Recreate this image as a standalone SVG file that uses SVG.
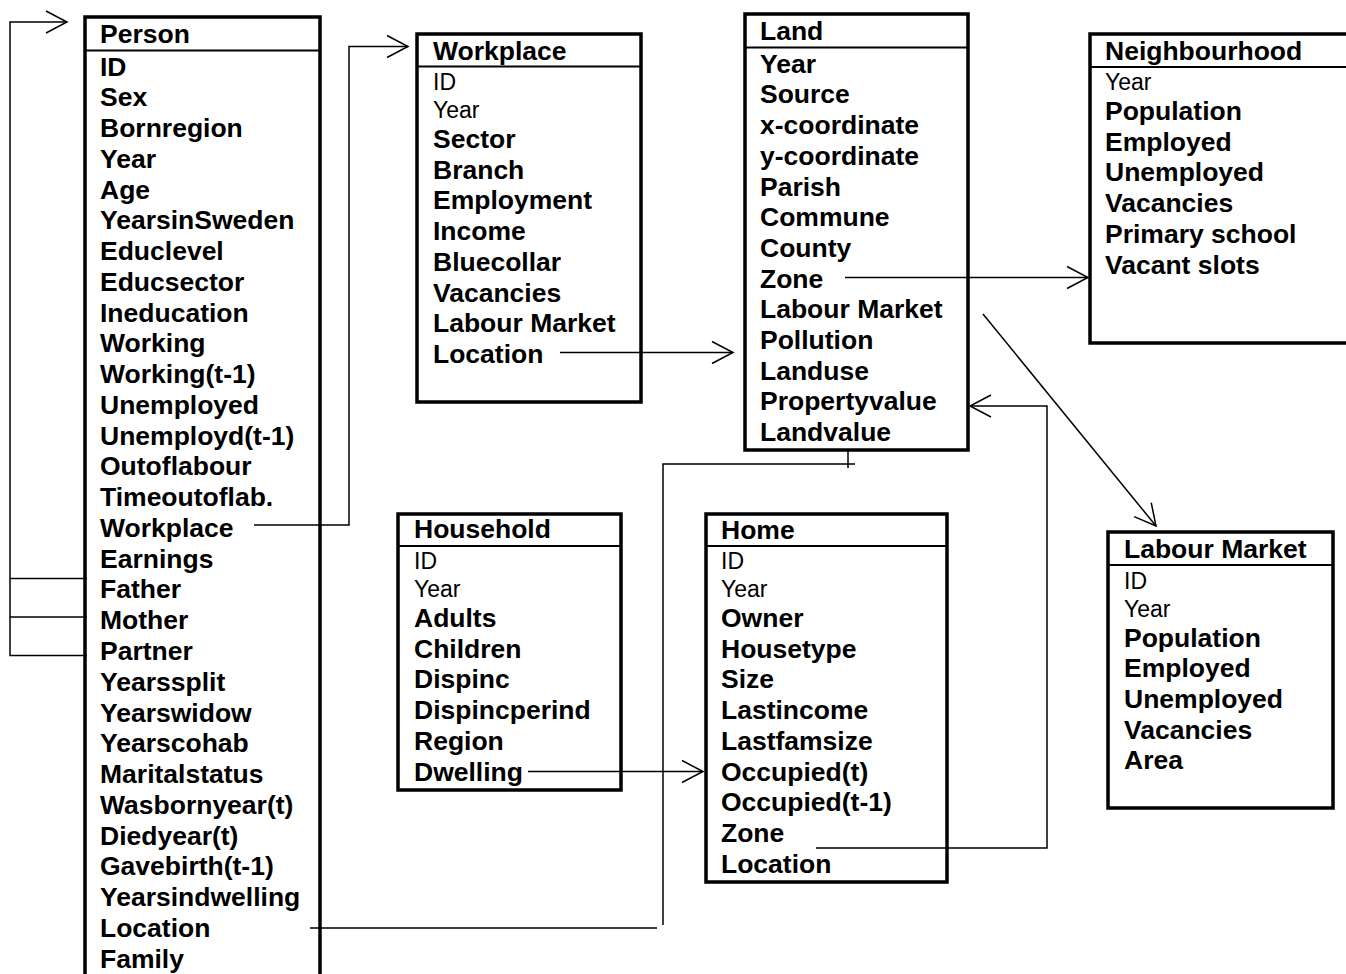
<svg xmlns="http://www.w3.org/2000/svg" width="1346" height="974" viewBox="0 0 1346 974">
<style>
.box{fill:#fff;stroke:#000;stroke-width:3.5}
.div{stroke:#000;stroke-width:2}
.b{font-family:"Liberation Sans",Arial,sans-serif;font-weight:bold;font-size:26.5px;fill:#000}
.r{font-family:"Liberation Sans",Arial,sans-serif;font-weight:normal;font-size:23px;fill:#000}
.c{fill:none;stroke:#000;stroke-width:1.5}
</style>
<defs>
<marker id="arr" markerUnits="userSpaceOnUse" viewBox="-24 -14 26 28" refX="0" refY="0" markerWidth="26" markerHeight="28" orient="auto">
<path d="M-21,-11 L0,0 L-21,11" fill="none" stroke="#000" stroke-width="1.5"/>
</marker>
</defs>
<rect width="1346" height="974" fill="#fff"/>

<g id="person">
<rect class="box" x="85" y="17" width="235" height="980"/>
<line class="div" x1="85" y1="50.5" x2="320" y2="50.5"/>
<text class="b" x="100" y="43">Person</text>
<text class="b" x="100" y="75.5">ID</text>
<text class="b" x="100" y="106.3">Sex</text>
<text class="b" x="100" y="137">Bornregion</text>
<text class="b" x="100" y="167.8">Year</text>
<text class="b" x="100" y="198.5">Age</text>
<text class="b" x="100" y="229.3">YearsinSweden</text>
<text class="b" x="100" y="260">Educlevel</text>
<text class="b" x="100" y="290.8">Educsector</text>
<text class="b" x="100" y="321.6">Ineducation</text>
<text class="b" x="100" y="352.3">Working</text>
<text class="b" x="100" y="383.1">Working(t-1)</text>
<text class="b" x="100" y="413.9">Unemployed</text>
<text class="b" x="100" y="444.6">Unemployd(t-1)</text>
<text class="b" x="100" y="475.4">Outoflabour</text>
<text class="b" x="100" y="506.1">Timeoutoflab.</text>
<text class="b" x="100" y="536.9">Workplace</text>
<text class="b" x="100" y="567.7">Earnings</text>
<text class="b" x="100" y="598.4">Father</text>
<text class="b" x="100" y="629.2">Mother</text>
<text class="b" x="100" y="659.9">Partner</text>
<text class="b" x="100" y="690.7">Yearssplit</text>
<text class="b" x="100" y="721.5">Yearswidow</text>
<text class="b" x="100" y="752.2">Yearscohab</text>
<text class="b" x="100" y="783">Maritalstatus</text>
<text class="b" x="100" y="813.8">Wasbornyear(t)</text>
<text class="b" x="100" y="844.5">Diedyear(t)</text>
<text class="b" x="100" y="875.3">Gavebirth(t-1)</text>
<text class="b" x="100" y="906">Yearsindwelling</text>
<text class="b" x="100" y="936.8">Location</text>
<text class="b" x="100" y="967.5">Family</text>
</g>

<g id="workplace">
<rect class="box" x="417" y="34" width="224" height="368"/>
<line class="div" x1="417" y1="66.5" x2="641" y2="66.5"/>
<text class="b" x="433" y="60">Workplace</text>
<text class="r" x="433" y="90">ID</text>
<text class="r" x="433" y="118">Year</text>
<text class="b" x="433" y="148">Sector</text>
<text class="b" x="433" y="178.7">Branch</text>
<text class="b" x="433" y="209.4">Employment</text>
<text class="b" x="433" y="240.1">Income</text>
<text class="b" x="433" y="270.8">Bluecollar</text>
<text class="b" x="433" y="301.5">Vacancies</text>
<text class="b" x="433" y="332.2">Labour Market</text>
<text class="b" x="433" y="362.9">Location</text>
</g>

<g id="land">
<rect class="box" x="745" y="14" width="223" height="436"/>
<line class="div" x1="745" y1="47.5" x2="968" y2="47.5"/>
<text class="b" x="760" y="40">Land</text>
<text class="b" x="760" y="72.7">Year</text>
<text class="b" x="760" y="103.4">Source</text>
<text class="b" x="760" y="134.1">x-coordinate</text>
<text class="b" x="760" y="164.8">y-coordinate</text>
<text class="b" x="760" y="195.5">Parish</text>
<text class="b" x="760" y="226.2">Commune</text>
<text class="b" x="760" y="256.9">County</text>
<text class="b" x="760" y="287.6">Zone</text>
<text class="b" x="760" y="318.3">Labour Market</text>
<text class="b" x="760" y="349">Pollution</text>
<text class="b" x="760" y="379.7">Landuse</text>
<text class="b" x="760" y="410.4">Propertyvalue</text>
<text class="b" x="760" y="441.1">Landvalue</text>
</g>

<g id="neighbourhood">
<rect class="box" x="1090" y="34" width="280" height="309"/>
<line class="div" x1="1090" y1="67" x2="1370" y2="67"/>
<text class="b" x="1105" y="60">Neighbourhood</text>
<text class="r" x="1105" y="90">Year</text>
<text class="b" x="1105" y="120">Population</text>
<text class="b" x="1105" y="150.7">Employed</text>
<text class="b" x="1105" y="181.4">Unemployed</text>
<text class="b" x="1105" y="212.1">Vacancies</text>
<text class="b" x="1105" y="242.8">Primary school</text>
<text class="b" x="1105" y="273.5">Vacant slots</text>
</g>

<g id="labourmarket">
<rect class="box" x="1108" y="532" width="225" height="276"/>
<line class="div" x1="1108" y1="565" x2="1333" y2="565"/>
<text class="b" x="1124" y="558">Labour Market</text>
<text class="r" x="1124" y="588.5">ID</text>
<text class="r" x="1124" y="616.5">Year</text>
<text class="b" x="1124" y="646.5">Population</text>
<text class="b" x="1124" y="677.2">Employed</text>
<text class="b" x="1124" y="707.9">Unemployed</text>
<text class="b" x="1124" y="738.6">Vacancies</text>
<text class="b" x="1124" y="769.3">Area</text>
</g>

<g id="household">
<rect class="box" x="398" y="514" width="223" height="276"/>
<line class="div" x1="398" y1="546" x2="621" y2="546"/>
<text class="b" x="414" y="538">Household</text>
<text class="r" x="414" y="568.5">ID</text>
<text class="r" x="414" y="597">Year</text>
<text class="b" x="414" y="627">Adults</text>
<text class="b" x="414" y="657.7">Children</text>
<text class="b" x="414" y="688.4">Dispinc</text>
<text class="b" x="414" y="719.1">Dispincperind</text>
<text class="b" x="414" y="749.8">Region</text>
<text class="b" x="414" y="780.5">Dwelling</text>
</g>

<g id="home">
<rect class="box" x="706" y="514" width="241" height="368"/>
<line class="div" x1="706" y1="546" x2="947" y2="546"/>
<text class="b" x="721" y="539">Home</text>
<text class="r" x="721" y="569">ID</text>
<text class="r" x="721" y="597">Year</text>
<text class="b" x="721" y="627">Owner</text>
<text class="b" x="721" y="657.7">Housetype</text>
<text class="b" x="721" y="688.4">Size</text>
<text class="b" x="721" y="719.1">Lastincome</text>
<text class="b" x="721" y="749.8">Lastfamsize</text>
<text class="b" x="721" y="780.5">Occupied(t)</text>
<text class="b" x="721" y="811.2">Occupied(t-1)</text>
<text class="b" x="721" y="841.9">Zone</text>
<text class="b" x="721" y="872.6">Location</text>
</g>

<g id="connectors">
<path class="c" d="M87,578.5 H10"/>
<path class="c" d="M87,617 H10"/>
<path class="c" d="M87,655.5 H10 V22 H67" marker-end="url(#arr)"/>
<path class="c" d="M254,525 H349 V46.5 H408" marker-end="url(#arr)"/>
<path class="c" d="M560,352.5 H733" marker-end="url(#arr)"/>
<path class="c" d="M845,277.5 H1088" marker-end="url(#arr)"/>
<path class="c" d="M983,314 L1156,526" marker-end="url(#arr)"/>
<path class="c" d="M816,848 H1047 V406 H970" marker-end="url(#arr)"/>
<path class="c" d="M528,771.5 H703" marker-end="url(#arr)"/>
<path class="c" d="M310,928 H657"/>
<path class="c" d="M663,925 V464 H855"/>
<path class="c" d="M848,450 V468"/>
</g>
</svg>
